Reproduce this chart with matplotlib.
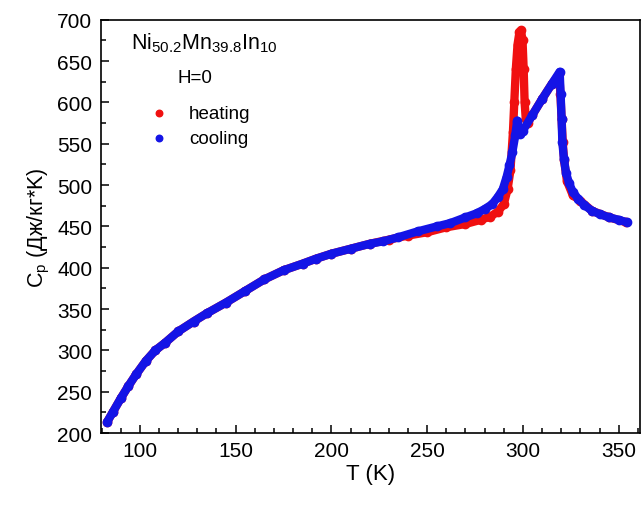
import matplotlib
matplotlib.use('Agg')
import matplotlib.pyplot as plt
from matplotlib.ticker import MultipleLocator

plt.rcParams['font.family'] = ['Liberation Sans', 'DejaVu Sans']
plt.rcParams['mathtext.fontset'] = 'custom'
plt.rcParams['mathtext.rm'] = 'Liberation Sans'

# cooling run
T_cool = [83, 86, 90, 94, 98, 103, 108, 113, 120, 128, 135, 145, 155, 165, 175,
          185, 192, 200, 210, 220, 227, 235, 245, 255, 262, 270, 276, 280, 284,
          287, 289.5, 291.5, 293, 294.5, 296, 297, 298.3, 300, 305, 310, 315,
          319.2, 319.7, 320.2, 320.6, 321.4, 322.5, 324, 326, 329, 332, 336,
          340, 345, 350, 354.5]
Cp_cool = [214, 226, 242, 257, 271, 287, 300, 309, 323, 335, 345, 358, 372, 386,
           397, 405, 411, 417, 423, 429, 432, 437, 444, 450, 454, 461, 466, 471,
           477, 486, 495, 510, 524, 540, 560, 578, 562, 566, 585, 604, 622, 637,
           610, 580, 552, 532, 515, 503, 492, 483, 476, 469, 465, 461, 458, 455]

# heating run
T_heat = [83, 86, 90, 94, 98, 103, 108, 113, 120, 128, 135, 145, 155, 165, 175,
          185, 192, 200, 210, 220, 230, 240, 250, 260,
          270, 278, 283, 287, 290, 292, 293.5, 294.8, 295.5, 296.3, 297.2, 298.2,
          299, 299.8, 300.4, 300.9, 301.5, 302.5, 305, 310, 315, 319, 319.6,
          320.2, 320.8, 321.5, 323, 326, 330, 336, 345, 354]
Cp_heat = [214, 226, 242, 257, 271, 287, 300, 309, 323, 335, 345, 358, 372, 386,
           397, 405, 411, 417, 423, 429, 434, 439, 443, 449,
           453, 458, 462, 468, 477, 495, 518, 564, 600, 640, 670, 685, 687, 675,
           640, 600, 580, 575, 585, 604, 622, 634, 610, 580, 552, 530, 505, 488,
           481, 469, 461, 455]

red = '#f01010'
blue = '#1414e6'

fig = plt.figure(figsize=(6.41, 5.06), dpi=100)
ax = fig.add_axes([0.157, 0.142, 0.841, 0.817])

ax.plot(T_heat, Cp_heat, '-o', color=red, lw=6, ms=6, solid_capstyle='round',
        solid_joinstyle='round')
ax.plot(T_cool, Cp_cool, '-o', color=blue, lw=6, ms=6, solid_capstyle='round',
        solid_joinstyle='round')

ax.set_xlim(79.5, 361)
ax.set_ylim(200, 700)
ax.xaxis.set_major_locator(MultipleLocator(50))
ax.xaxis.set_minor_locator(MultipleLocator(10))
ax.yaxis.set_major_locator(MultipleLocator(50))
ax.yaxis.set_minor_locator(MultipleLocator(25))
ax.tick_params(which='both', direction='in', top=False, right=False,
               labelsize=15, width=1.1)
ax.tick_params(which='major', length=6, pad=6)
ax.tick_params(which='minor', length=3.5)
for s in ax.spines.values():
    s.set_linewidth(1.2)

ax.set_xlabel('T (K)', fontsize=16, labelpad=2)
ax.set_ylabel(r'C$_\mathregular{p}$ (Дж/кг*K)', fontsize=15.5, labelpad=4)

ax.text(0.193, 0.945, r'Ni$_\mathregular{50.2}$Mn$_\mathregular{39.8}$In$_\mathregular{10}$',
        transform=ax.transAxes, ha='center', va='center', fontsize=15.5)
ax.text(0.175, 0.86, 'H=0', transform=ax.transAxes, ha='center', va='center',
        fontsize=13.5)

ax.scatter([], [], color=red, s=22, label='heating')
ax.scatter([], [], color=blue, s=22, label='cooling')
ax.legend(loc='upper left', bbox_to_anchor=(0.06, 0.812), frameon=False,
          fontsize=13.5, handletextpad=0.6, borderaxespad=0, labelspacing=0.4)

fig.savefig('out.png', dpi=100)
